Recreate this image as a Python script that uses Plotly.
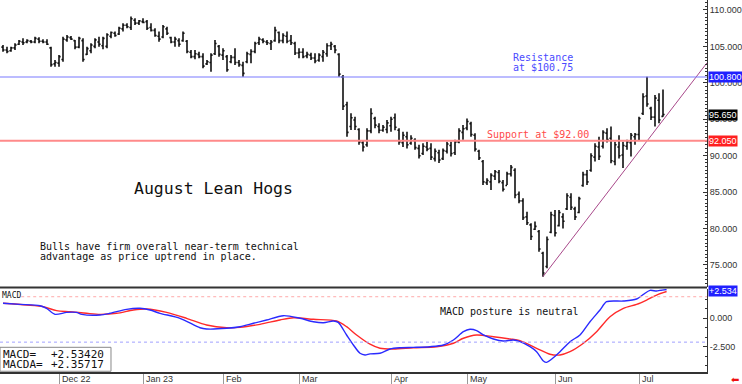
import plotly.graph_objects as go

# ---------------- data ----------------
high = [105.2, 104.97, 104.97, 105.42, 105.88, 106.11, 105.97, 105.88, 106.34, 106.25,
        105.97, 105.97, 104.97, 103.13, 103.82, 106.34, 106.57, 106.43, 105.88, 106.34,
        106.11, 104.97, 105.42, 106.11, 106.34, 106.34, 106.8, 107.03, 107.03, 107.71,
        108.17, 108.17, 109.09, 108.86, 108.63, 108.86, 108.63, 108.17, 107.48, 107.03,
        107.94, 107.71, 106.34, 106.34, 106.11, 107.03, 105.88, 104.51, 104.51, 104.28,
        104.05, 103.13, 104.05, 105.88, 105.2, 104.74, 103.82, 103.82, 104.74, 103.13,
        102.9, 104.28, 104.6, 105.65, 106.34, 106.11, 105.88, 105.88, 107.71, 107.03,
        106.8, 107.03, 106.57, 105.65, 104.74, 104.74, 104.28, 104.14, 104.05, 104.05,
        104.5, 105.42, 105.65, 105.2, 104.05, 101.08, 97.42, 95.82, 95.36, 93.76,
        92.16, 93.76, 96.5, 95.36, 94.44, 94.2, 94.9, 95.36, 95.8, 93.76,
        93.3, 93.3, 92.8, 92.4, 91.5, 91.7, 91.9, 91.7, 91.0, 90.8,
        91.0, 91.9, 91.9, 92.2, 93.76, 94.2, 95.1, 94.67, 93.07, 90.8,
        89.42, 86.9, 87.59, 88.04, 88.04, 86.67, 87.81, 88.73, 88.27, 85.07,
        84.15, 82.32, 80.72, 80.95, 79.81, 76.83, 78.9, 82.32, 82.55, 82.55,
        82.1, 84.84, 84.84, 83.0, 84.38, 87.81, 88.04, 90.33, 91.7, 92.6,
        93.5, 93.76, 93.99, 91.9, 92.8, 91.9, 92.2, 93.1, 93.1, 95.36,
        98.56, 100.85, 96.73, 98.33, 98.56, 99.1]
low = [104.28, 104.05, 104.28, 104.51, 105.19, 105.19, 105.42, 105.42, 105.42, 105.42,
       105.42, 105.19, 102.22, 102.22, 102.22, 102.9, 105.65, 105.88, 104.6, 104.74,
       102.9, 103.82, 104.05, 104.74, 104.97, 104.6, 104.74, 106.11, 106.34, 106.57,
       107.03, 107.48, 107.25, 107.94, 107.94, 108.17, 107.25, 107.03, 106.34, 105.65,
       106.11, 106.57, 105.42, 104.97, 104.97, 105.65, 104.05, 103.36, 103.23, 103.36,
       101.99, 102.45, 101.53, 103.82, 103.59, 103.13, 101.53, 102.68, 102.45, 102.22,
       100.85, 102.68, 102.68, 104.05, 105.2, 105.42, 105.2, 104.51, 105.65, 105.42,
       105.42, 105.42, 105.2, 103.82, 103.36, 103.36, 103.36, 103.13, 102.68, 102.9,
       102.9, 103.59, 104.51, 104.05, 100.85, 96.27, 92.61, 93.53, 93.53, 91.5,
       90.56, 91.24, 93.07, 93.76, 93.07, 93.3, 93.07, 93.3, 93.5, 91.5,
       91.2, 91.0, 91.5, 90.8, 89.6, 90.1, 90.6, 89.4, 89.2, 89.0,
       89.4, 90.3, 89.9, 90.1, 91.7, 92.2, 93.5, 92.6, 90.56, 89.4,
       85.98, 85.98, 85.3, 86.67, 86.21, 85.07, 85.98, 87.13, 84.15, 83.47,
       81.18, 80.49, 78.44, 79.81, 76.83, 73.4, 74.55, 79.35, 78.9, 80.27,
       80.0, 82.55, 82.55, 81.18, 82.1, 85.75, 85.98, 87.81, 89.19, 89.4,
       91.0, 91.8, 88.96, 88.7, 89.6, 88.3, 90.8, 89.9, 91.5, 92.16,
       95.59, 96.73, 94.9, 93.99, 94.44, 95.36]
open_ = [104.9, 104.5, 104.4, 104.8, 105.3, 105.6, 105.6, 105.7, 105.6, 106.0,
         105.7, 105.6, 104.8, 102.6, 102.7, 103.2, 105.9, 106.2, 105.8, 104.9,
         105.8, 103.9, 104.4, 105.0, 105.6, 105.1, 105.0, 106.4, 106.8, 106.7,
         107.4, 107.9, 107.6, 108.6, 108.2, 108.4, 108.4, 107.6, 107.2, 106.4,
         106.3, 107.4, 106.2, 105.6, 105.8, 105.8, 105.7, 104.2, 103.6, 103.9,
         103.6, 102.6, 102.8, 104.0, 105.0, 103.8, 103.6, 102.9, 103.5, 102.8,
         102.4, 102.9, 103.9, 104.3, 105.5, 105.9, 105.6, 105.4, 105.8, 106.9,
         105.8, 106.4, 105.8, 105.4, 104.1, 104.2, 103.7, 103.8, 103.4, 103.1,
         103.6, 104.0, 105.1, 105.0, 103.9, 100.8, 97.0, 94.0, 94.9, 93.6,
         91.8, 91.5, 93.4, 95.1, 94.0, 93.5, 93.6, 94.1, 95.2, 93.5,
         91.8, 92.6, 91.7, 92.1, 91.0, 90.3, 91.2, 91.0, 89.6, 90.4,
         89.6, 90.6, 91.4, 90.4, 91.9, 93.2, 93.8, 94.4, 92.8, 90.6,
         89.2, 86.3, 86.4, 87.2, 87.7, 86.3, 85.9, 87.5, 88.0, 84.7,
         83.8, 81.6, 80.5, 79.9, 79.6, 76.6, 74.8, 79.5, 81.8, 80.4,
         81.6, 82.7, 84.3, 82.7, 82.2, 85.9, 87.4, 88.0, 89.8, 91.2,
         91.3, 93.1, 92.4, 89.2, 91.2, 90.1, 91.3, 91.8, 92.6, 92.9,
         95.8, 98.2, 96.5, 95.3, 97.6, 95.4]
close = [104.5, 104.3, 104.8, 105.2, 105.7, 105.5, 105.8, 105.6, 106.1, 105.7,
         105.6, 105.3, 102.5, 102.8, 103.6, 106.0, 106.3, 106.0, 104.9, 106.1,
         103.2, 104.7, 105.2, 105.9, 105.3, 106.1, 106.6, 106.9, 106.5, 107.5,
         107.9, 107.7, 108.8, 108.2, 108.5, 108.3, 107.5, 107.2, 106.5, 106.0,
         107.7, 106.8, 105.6, 106.0, 105.3, 106.8, 104.3, 103.6, 104.0, 103.6,
         102.3, 102.9, 103.8, 105.4, 103.9, 104.4, 101.8, 103.5, 102.8, 102.5,
         101.3, 104.0, 104.3, 105.4, 106.0, 105.7, 105.5, 105.6, 107.2, 105.8,
         106.5, 105.7, 105.5, 104.1, 104.2, 103.6, 103.9, 103.4, 103.0, 103.8,
         104.2, 105.1, 105.3, 104.5, 101.2, 96.8, 93.2, 95.2, 94.0, 91.9,
         91.2, 93.4, 95.8, 94.2, 93.5, 93.9, 94.5, 95.0, 93.9, 91.9,
         92.8, 91.5, 92.4, 91.1, 90.0, 91.3, 90.9, 89.8, 90.6, 89.4,
         90.7, 91.6, 90.3, 91.9, 93.4, 93.7, 94.7, 92.9, 90.9, 89.7,
         86.4, 86.6, 87.3, 87.8, 86.5, 85.4, 87.5, 88.4, 84.6, 83.8,
         81.5, 80.8, 78.9, 80.3, 77.2, 73.9, 78.5, 81.9, 79.4, 82.2,
         81.0, 84.5, 82.9, 81.6, 84.1, 87.4, 86.4, 90.0, 91.3, 89.9,
         93.2, 92.2, 89.3, 91.5, 90.0, 91.4, 91.9, 92.8, 92.9, 95.1,
         98.1, 97.1, 95.3, 97.9, 94.9, 95.65]

month_idx = [14, 35, 55, 74, 97, 116, 138, 159]
month_lbl = ["Dec 22", "Jan 23", "Feb", "Mar", "Apr", "May", "Jun", "Jul"]

macd_x = [0, 4.25, 9.25, 10.9, 13, 15.9, 18.4, 19.7, 24.25, 26.75, 30.9, 34.25, 36.75,
          39.25, 44.25, 49.25, 50.9, 55.9, 59.25, 62.6, 65.9, 70.1, 74.25, 77.6, 80.1,
          82.6, 83.8, 85.9, 87.6, 89.25, 90.5, 91.75, 94.25, 96.75, 99.25, 102.6,
          106.75, 110.1, 112.6, 115.1, 116.75, 118.4, 120.1, 122.6, 125.1, 127.6,
          129.25, 131.75, 133.4, 135.1, 135.9, 137.2, 139.25, 141.75, 144.25, 146.75,
          149.25, 150.9, 155.1, 158.4, 160.1, 161.75, 163.4, 164.25, 165.9]
macd_y = [1.32, 1.23, 1.11, 0.88, 0.35, 0.52, 0.52, 0.35, 0.29, 0.44, 0.79, 0.88, 0.73,
          0.44, 0.0, -0.83, -0.94, -0.88, -0.74, -0.44, -0.15, 0.23, 0.0, -0.30, -0.39,
          -0.24, -0.36, -1.47, -2.35, -3.08, -3.23, -3.13, -3.08, -2.70, -2.59, -2.56,
          -2.50, -2.35, -1.91, -1.18, -0.97, -1.09, -1.47, -1.82, -2.0, -1.91,
          -2.06, -2.50, -2.94, -3.76, -3.88, -3.58, -2.94, -2.06, -1.47, -0.30,
          0.73, 1.46, 1.52, 1.70, 2.11, 2.46, 2.40, 2.46, 2.53]
signal_x = [0, 5.9, 10.1, 13.4, 16.75, 20.9, 24.25, 28.4, 32.6, 35.9, 40.9, 45.9, 50.9,
            55.9, 59.25, 64.25, 69.25, 72.6, 77.6, 83.4, 85.9, 88.4, 91.75, 94.25, 97.6,
            102.6, 108.4, 112.6, 115.1, 118.4, 122.6, 126.75, 129.25, 133.4, 136.75,
            139.25, 141.75, 145.1, 148.4, 151.75, 155.1, 158.4, 160.9, 163.4, 165.9]
signal_y = [1.32, 1.17, 1.02, 0.67, 0.58, 0.44, 0.35, 0.44, 0.73, 0.82, 0.52, 0.0, -0.59,
            -0.83, -0.80, -0.53, -0.15, 0.05, -0.09, -0.24, -0.74, -1.47, -2.28, -2.64, -2.70,
            -2.59, -2.50, -2.20, -1.76, -1.47, -1.62, -1.82, -1.97, -2.64, -3.17,
            -3.23, -2.94, -2.20, -1.18, 0.14, 0.88, 1.23, 1.61, 2.05, 2.36]

resistance = 100.8
support = 92.05
last_price = 95.65
macd_last = 2.53420
macda_last = 2.35717
trend_x = [135, 176]
trend_y = [73.4, 102.75]
macd_upper = 1.9
macd_lower = -2.1

# ---------------- figure ----------------
MONO = "DejaVu Sans Mono"
SANS = "Liberation Sans"
x = list(range(len(high)))

fig = go.Figure()
fig.add_trace(go.Ohlc(
    x=x, open=open_, high=high, low=low, close=close,
    increasing=dict(line=dict(color="#111111", width=1.6)),
    decreasing=dict(line=dict(color="#111111", width=1.6)),
    tickwidth=0.4, xaxis="x", yaxis="y", showlegend=False, hoverinfo="skip"))
fig.add_trace(go.Scatter(x=trend_x, y=trend_y, mode="lines", xaxis="x", yaxis="y",
                         line=dict(color="#a8488a", width=1), showlegend=False,
                         hoverinfo="skip"))
fig.add_trace(go.Scatter(x=signal_x, y=signal_y, mode="lines", xaxis="x", yaxis="y2",
                         line=dict(color="#ff2a2a", width=1.4, shape="spline",
                                   smoothing=0.8), showlegend=False, hoverinfo="skip"))
fig.add_trace(go.Scatter(x=macd_x, y=macd_y, mode="lines", xaxis="x", yaxis="y2",
                         line=dict(color="#2a2aff", width=1.4, shape="spline",
                                   smoothing=0.8), showlegend=False, hoverinfo="skip"))

price_bottom = 0.2272
macd_top = 0.2231

shapes = [
    dict(type="line", xref="paper", x0=0, x1=1, yref="y", y0=resistance, y1=resistance,
         line=dict(color="#7b7bff", width=1.2)),
    dict(type="line", xref="paper", x0=0, x1=1, yref="y", y0=support, y1=support,
         line=dict(color="#ff8a8a", width=2)),
    dict(type="line", xref="paper", x0=0.03, x1=1, yref="y2", y0=macd_upper, y1=macd_upper,
         line=dict(color="#ffaaaa", width=1, dash="dot")),
    dict(type="line", xref="paper", x0=0, x1=1, yref="y2", y0=macd_lower, y1=macd_lower,
         line=dict(color="#a0a0ff", width=1, dash="dot")),
    dict(type="line", xref="paper", x0=0, x1=1, yref="paper", y0=price_bottom,
         y1=price_bottom, line=dict(color="#333333", width=2)),
    dict(type="rect", xref="paper", x0=0, x1=0.157, yref="paper", y0=0.002, y1=0.0664,
         line=dict(color="#888888", width=1), fillcolor="white"),
]

ann = []
def text(xv, yv, s, size=10, color="#111111", xref="x", yref="y", xanchor="left",
         yanchor="middle", family=MONO, **kw):
    ann.append(dict(x=xv, y=yv, xref=xref, yref=yref, text=s, showarrow=False,
                    xanchor=xanchor, yanchor=yanchor,
                    font=dict(family=family, size=size, color=color), **kw))

text(32.2, 85.53, "August Lean Hogs", size=16.5)
text(8.8, 77.51, "Bulls have firm overall near-term technical", size=10)
text(8.8, 76.14, "advantage as price uptrend in place.", size=10)
text(126.9, 103.51, "Resistance", size=10, color="#4a4aff")
text(126.9, 102.14, "at $100.75", size=10, color="#4a4aff")
text(120.5, 92.89, "Support at $92.00", size=10, color="#ff4a4a")
text(108.75, 0.58, "MACD posture is neutral", size=10, yref="y2")
text(0, macd_top, "MACD", size=8, xref="paper", yref="paper", yanchor="top")
text(0.001, 0.0457, "MACD=", size=11, xref="paper", yref="paper")
text(0.0693, 0.0457, f"{macd_last:+.5f}", size=11, xref="paper", yref="paper")
text(0.001, 0.0215, "MACDA=", size=11, xref="paper", yref="paper")
text(0.0693, 0.0215, f"{macda_last:+.5f}", size=11, xref="paper", yref="paper")

for mi, ml in zip(month_idx, month_lbl):
    text(mi, 0, ml, size=9, yref="paper", yanchor="top", family=SANS, color="#333333",
         xshift=1, yshift=0)

# value boxes on the right axis
for val, bg, yr, s in [(resistance, "#2020ff", "y", f"{resistance:.3f}"),
                       (last_price, "#000000", "y", f"{last_price:.3f}"),
                       (support, "#ff2020", "y", f"{support:.3f}"),
                       (macd_last, "#2020ff", "y2", f"{macd_last:+.3f}")]:
    ann.append(dict(x=1, y=val, xref="paper", yref=yr, text=s, showarrow=False,
                    xanchor="left", yanchor="middle", xshift=1,
                    yshift=-1 if yr == "y2" else 0,
                    bgcolor=bg, borderpad=0,
                    font=dict(family=SANS, size=9, color="white")))
ann.append(dict(x=1, y=0, xref="paper", yref="paper", text="⬅", showarrow=False,
                xanchor="left", yanchor="top", xshift=22, yshift=0,
                font=dict(family="DejaVu Sans", size=10, color="#ee1111")))

fig.update_layout(
    width=742, height=384, margin=dict(l=0, r=35, t=0, b=12),
    paper_bgcolor="white", plot_bgcolor="white", showlegend=False,
    shapes=shapes, annotations=ann,
    xaxis=dict(domain=[0, 1], range=[-0.75, 176], anchor="y2", showgrid=False,
               zeroline=False, showline=True, linecolor="#333333", linewidth=2,
               tickmode="array", tickvals=month_idx, ticks="outside", ticklen=12,
               tickcolor="#999999", tickwidth=1, showticklabels=False,
               rangeslider=dict(visible=False), fixedrange=True),
    yaxis=dict(domain=[price_bottom, 1], range=[71.91, 111.37], side="right",
               anchor="x", showgrid=False, zeroline=False, showline=True,
               linecolor="#333333", linewidth=1, ticks="inside", ticklen=4,
               tickcolor="#333333", tick0=0, dtick=5, tickformat=".3f",
               tickfont=dict(family=SANS, size=9, color="#333333"),
               minor=dict(tick0=0, dtick=0.5, ticks="inside", ticklen=2,
                          tickcolor="#333333")),
    yaxis2=dict(domain=[0, macd_top], range=[-4.73, 2.58], side="right", anchor="x",
                showgrid=False, zeroline=False, showline=True, linecolor="#333333",
                linewidth=1, ticks="inside", ticklen=4, tickcolor="#333333",
                tickmode="array", tickvals=[0, -2.5], ticktext=["0.000", "-2.500"],
                tickfont=dict(family=SANS, size=9, color="#333333"),
                minor=dict(tick0=0, dtick=2.5 / 3, ticks="inside", ticklen=2,
                           tickcolor="#333333")),
)

fig.write_html("out.html")
